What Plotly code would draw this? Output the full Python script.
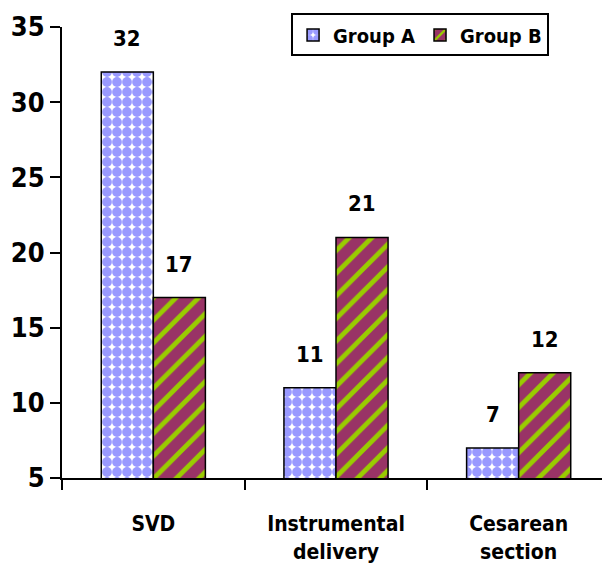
import plotly.graph_objects as go

categories = ["SVD", "Instrumental<br>delivery", "Cesarean<br>section"]
group_a = [32, 11, 7]
group_b = [17, 21, 12]
y_ticks = [5, 10, 15, 20, 25, 30, 35]

FONT = "DejaVu Sans Condensed, Liberation Sans Narrow, Arial Narrow, sans-serif"

fig = go.Figure()
fig.add_trace(go.Bar(
    x=categories, y=group_a, name="Group A",
    marker=dict(color="#9999ff", line=dict(color="black", width=1.5),
                pattern=dict(shape=".", bgcolor="white", fgcolor="#9999ff",
                             fgopacity=1, size=10, solidity=0.75, fillmode="replace")),
))
fig.add_trace(go.Bar(
    x=categories, y=group_b, name="Group B",
    marker=dict(color="#993366", line=dict(color="black", width=1.5),
                pattern=dict(shape="/", bgcolor="#993366", fgcolor="#99cc00",
                             fgopacity=1, size=16, solidity=0.3, fillmode="replace")),
))

for xs, vals, shift in ((categories, group_a, -26), (categories, group_b, 26)):
    for c, v in zip(xs, vals):
        fig.add_annotation(x=c, y=v, text=str(v), showarrow=False,
                           xshift=shift, yshift=19, yanchor="bottom",
                           font=dict(family=FONT, size=22, color="black", weight="bold"))

fig.update_layout(
    width=602, height=569,
    margin=dict(l=54, r=0, t=19, b=99, autoexpand=False),
    paper_bgcolor="white", plot_bgcolor="white",
    barmode="group", bargap=0.43, bargroupgap=0,
    font=dict(family=FONT, color="black", weight="bold"),
    showlegend=True,
    legend=dict(orientation="h", x=0.418, y=1.03, xanchor="left", yanchor="top",
                bordercolor="black", borderwidth=2, bgcolor="white",
                font=dict(family=FONT, size=20, color="black", weight="bold"),
                itemwidth=30, tracegroupgap=0),
)
fig.update_yaxes(range=[5, 35], tickvals=y_ticks, showgrid=False, zeroline=False,
                 automargin=False,
                 showline=True, linecolor="black", linewidth=2,
                 ticks="outside", ticklen=10, tickwidth=2, tickcolor="black",
                 tickfont=dict(family=FONT, size=27, color="black", weight="bold"))
fig.update_xaxes(showgrid=False, showline=True, linecolor="black", linewidth=2,
                 automargin=False,
                 ticks="outside", ticklen=10, tickwidth=2, tickcolor="black",
                 tickson="boundaries", ticklabelstandoff=26,
                 tickfont=dict(family=FONT, size=21, color="black", weight="bold"))

fig.write_html("out.html")
